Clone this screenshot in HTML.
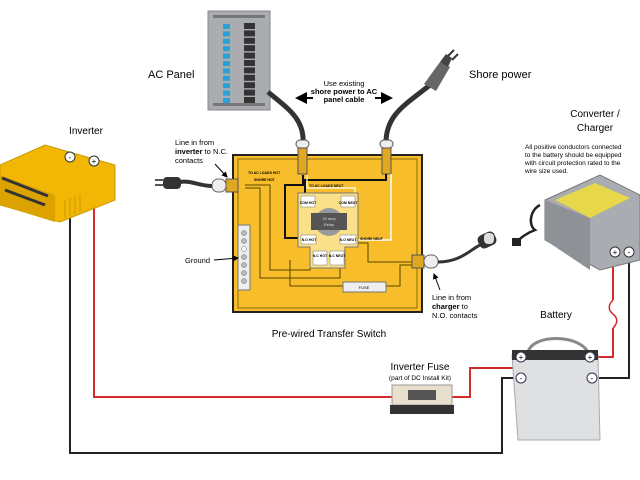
<!DOCTYPE html>
<html><head><style>body{margin:0;background:#fff}svg{display:block}text{font-family:"Liberation Sans",sans-serif}</style></head>
<body>
<svg width="640" height="480" viewBox="0 0 640 480" xmlns="http://www.w3.org/2000/svg">
<defs><marker id="ar" markerWidth="6" markerHeight="6" refX="5" refY="3" orient="auto"><path d="M0,0L6,3L0,6z" fill="#000"/></marker></defs>
<polyline points="70,160 70,453 502,453 502,378 515,378" fill="none" stroke="#222" stroke-width="2"/>
<polyline points="94,160 94,397 470,397 470,368 515,368" fill="none" stroke="#d42a2a" stroke-width="2"/>
<polyline points="613,255 613,300" fill="none" stroke="#d42a2a" stroke-width="2"/>
<path d="M613,300 c-5,5 -5,10 0,14 c5,4 5,9 0,14" fill="none" stroke="#d42a2a" stroke-width="1.5"/>
<polyline points="613,328 613,357 592,357" fill="none" stroke="#d42a2a" stroke-width="2"/>
<polyline points="629,255 629,378 596,378" fill="none" stroke="#222" stroke-width="2"/>
<rect x="208" y="11" width="62" height="99" fill="#a9acb0" stroke="#888"/>
<rect x="213" y="15" width="52" height="3" fill="#777"/><rect x="213" y="103" width="52" height="3" fill="#777"/>
<g id="br">
<rect x="223" y="24" width="7" height="5" fill="#2aa0d8"/><rect x="244" y="23" width="11" height="6" fill="#333"/>
</g>
<use href="#br" y="7.4"/><use href="#br" y="14.8"/><use href="#br" y="22.2"/><use href="#br" y="29.6"/><use href="#br" y="37"/><use href="#br" y="44.4"/><use href="#br" y="51.8"/><use href="#br" y="59.2"/><use href="#br" y="66.6"/><use href="#br" y="74"/>
<text x="148" y="78" font-size="11">AC Panel</text>
<text x="469" y="78" font-size="11">Shore power</text>
<text x="344" y="86" font-size="7.5" text-anchor="middle">Use existing</text>
<text x="344" y="94" font-size="7.5" text-anchor="middle" font-weight="bold">shore power to AC</text>
<text x="344" y="102" font-size="7.5" text-anchor="middle" font-weight="bold">panel cable</text>
<line x1="313" y1="98" x2="297" y2="98" stroke="#000" stroke-width="2" marker-end="url(#ar)"/>
<line x1="375" y1="98" x2="391" y2="98" stroke="#000" stroke-width="2" marker-end="url(#ar)"/>
<path d="M268,92 C290,110 305,120 303,145" fill="none" stroke="#333" stroke-width="5"/>
<path d="M430,85 C405,105 385,115 386,145" fill="none" stroke="#333" stroke-width="5"/>
<path d="M424,84 l16,-22 l10,5 l-14,24z" fill="#666"/>
<path d="M440,62 l6,-8 l6,4 l-4,9z" fill="#444"/>
<path d="M448,56 l6,-6 M452,60 l6,-6" stroke="#333" stroke-width="2"/>
<rect x="233" y="155" width="189" height="157" fill="#f7bd2a" stroke="#222" stroke-width="2"/>
<rect x="238" y="159" width="179" height="149" fill="none" stroke="#8a6a10" stroke-width="1"/>
<g fill="#eee" stroke="#555"><rect x="296" y="140" width="13" height="8" rx="4"/><rect x="380" y="140" width="13" height="8" rx="4"/></g>
<rect x="298" y="148" width="9" height="26" fill="#e0a820" stroke="#555"/>
<rect x="382" y="148" width="9" height="26" fill="#e0a820" stroke="#555"/>
<g fill="none" stroke="#5a4500" stroke-width="1">
<polyline points="245,185 270,185 270,270 310,270 310,262"/>
<polyline points="245,188 260,188 260,278 340,278 340,262"/>
<polyline points="290,260 290,286 343,286"/>
<polyline points="386,286 400,286 400,265 412,265"/>
<polyline points="358,243 368,243 368,262 412,262"/>
</g>
<polyline points="303,175 303,185 285,185 285,238 300,238" fill="none" stroke="#111" stroke-width="2"/>
<polyline points="386,174 386,180 305,180 305,196" fill="none" stroke="#111" stroke-width="2"/>
<polyline points="391,174 391,240 356,240" fill="none" stroke="#fff" stroke-width="1.5"/>
<polyline points="307,175 307,188 355,188 355,196" fill="none" stroke="#fff" stroke-width="1.2"/>
<path d="M298,193 h60 v54 h-13 v21 h-35 v-21 h-12z" fill="#fbe08a" stroke="#777"/>
<circle cx="329" cy="222" r="14" fill="#999"/>
<rect x="311" y="213" width="36" height="17" fill="#555"/>
<text x="329" y="220" font-size="4" fill="#ddd" text-anchor="middle">15 amp</text>
<text x="329" y="226" font-size="4" fill="#ddd" text-anchor="middle">Relay</text>
<g fill="#fff" stroke="#777" stroke-width="0.5">
<rect x="301" y="196" width="14" height="11"/><rect x="341" y="196" width="14" height="11"/>
<rect x="301" y="235" width="15" height="9"/><rect x="340" y="235" width="16" height="9"/>
<rect x="313" y="251" width="14" height="14"/><rect x="330" y="251" width="14" height="14"/>
</g>
<g font-size="3.5" font-weight="bold" text-anchor="middle">
<text x="308" y="204">COM HOT</text><text x="348" y="204">COM NEUT</text>
<text x="309" y="241">N.O HOT</text><text x="348" y="241">N.O NEUT</text>
<text x="320" y="257">N.C HOT</text><text x="337" y="257">N.C NEUT</text>
<text x="248" y="174" text-anchor="start">TO AC LOADS HOT</text>
<text x="254" y="181" text-anchor="start">SHORE HOT</text>
<text x="309" y="187" text-anchor="start">TO AC LOADS NEUT</text>
<text x="360" y="240" text-anchor="start">SHORE NEUT</text>
</g>
<rect x="238" y="225" width="12" height="65" fill="#eee" stroke="#777"/>
<g fill="#bbb" stroke="#666" stroke-width="0.5"><circle cx="244" cy="233" r="2.5"/><circle cx="244" cy="241" r="2.5"/><circle cx="244" cy="249" r="2.5" fill="#fff"/><circle cx="244" cy="257" r="2.5"/><circle cx="244" cy="265" r="2.5"/><circle cx="244" cy="273" r="2.5"/><circle cx="244" cy="281" r="2.5"/></g>
<rect x="343" y="282" width="43" height="10" fill="#eee" stroke="#777"/>
<text x="364" y="289" font-size="4" text-anchor="middle">FUSE</text>
<rect x="226" y="179" width="12" height="13" fill="#e0a820" stroke="#555"/>
<rect x="212" y="179" width="14" height="13" rx="6" fill="#eee" stroke="#666"/>
<path d="M212,186 C200,186 190,180 180,182" fill="none" stroke="#333" stroke-width="4"/>
<rect x="163" y="177" width="18" height="12" rx="4" fill="#333"/>
<path d="M155,180 h8 M155,185 h8" stroke="#555" stroke-width="2"/>
<rect x="412" y="255" width="12" height="13" fill="#e0a820" stroke="#555"/>
<rect x="424" y="255" width="14" height="13" rx="6" fill="#eee" stroke="#666"/>
<path d="M438,262 C460,262 470,250 480,245" fill="none" stroke="#333" stroke-width="3"/>
<rect x="478" y="233" width="18" height="14" rx="5" fill="#333" transform="rotate(-25 487 240)"/>
<rect x="484" y="233" width="10" height="11" rx="4" fill="#ddd"/>
<text x="175" y="145" font-size="7.5">Line in from</text>
<text x="175" y="154" font-size="7.5"><tspan font-weight="bold">inverter</tspan> to N.C.</text>
<text x="175" y="163" font-size="7.5">contacts</text>
<line x1="215" y1="164" x2="227" y2="177" stroke="#000" marker-end="url(#ar)"/>
<text x="185" y="263" font-size="7.5">Ground</text>
<line x1="214" y1="260" x2="238" y2="258" stroke="#000" marker-end="url(#ar)"/>
<text x="432" y="300" font-size="7.5">Line in from</text>
<text x="432" y="309" font-size="7.5" font-weight="bold">charger <tspan font-weight="normal">to</tspan></text>
<text x="432" y="318" font-size="7.5">N.O. contacts</text>
<line x1="440" y1="290" x2="434" y2="274" stroke="#000" marker-end="url(#ar)"/>
<text x="329" y="337" font-size="10" text-anchor="middle">Pre-wired Transfer Switch</text>
<text x="86" y="134" font-size="10" text-anchor="middle">Inverter</text>
<path d="M0,165 L45,145 L115,165 L115,200 L60,222 L0,205z" fill="#f2b705" stroke="#c99a00"/>
<path d="M0,175 L55,195 L55,222 L0,205z" fill="#dca300"/>
<path d="M2,178 L48,196 M5,190 l40,15" stroke="#333" stroke-width="3"/>
<path d="M65,200 v18 M70,198 v18 M75,196 v18 M80,194 v18" stroke="#c99a00"/>
<circle cx="70" cy="157" r="5" fill="#fff" stroke="#333"/><text x="70" y="160" font-size="8" text-anchor="middle">-</text>
<circle cx="94" cy="161" r="5" fill="#fff" stroke="#333"/><text x="94" y="164" font-size="8" text-anchor="middle">+</text>
<text x="595" y="117" font-size="10" text-anchor="middle">Converter /</text>
<text x="595" y="131" font-size="10" text-anchor="middle">Charger</text>
<g font-size="6.5"><text x="525" y="149">All positive conductors connected</text><text x="525" y="157">to the battery should be equipped</text><text x="525" y="165">with circuit protection rated to the</text><text x="525" y="173">wire size used.</text></g>
<path d="M545,200 L600,175 L640,195 L640,260 L600,270 L545,240z" fill="#a9acb0" stroke="#777"/>
<path d="M555,200 L595,183 L630,198 L590,218z" fill="#e6d84a"/>
<path d="M545,200 L590,218 L590,270 L545,240z" fill="#8e9195"/>
<path d="M540,205 c-10,5 -12,20 -5,25 c-8,3 -15,8 -18,12" fill="none" stroke="#222" stroke-width="2.5"/>
<rect x="512" y="238" width="9" height="8" fill="#222"/>
<circle cx="615" cy="252" r="5" fill="#fff" stroke="#333"/><text x="615" y="255" font-size="8" text-anchor="middle">+</text>
<circle cx="629" cy="252" r="5" fill="#fff" stroke="#333"/><text x="629" y="255" font-size="8" text-anchor="middle">-</text>
<text x="556" y="318" font-size="10" text-anchor="middle">Battery</text>
<path d="M528,352 c5,-18 50,-18 60,0" fill="none" stroke="#888" stroke-width="3"/>
<path d="M512,355 L598,355 L600,440 L518,440z" fill="#dfe0e2" stroke="#aaa"/>
<rect x="512" y="350" width="86" height="10" fill="#333"/>
<circle cx="521" cy="357" r="5" fill="#fff" stroke="#335"/><text x="521" y="360" font-size="8" text-anchor="middle">+</text>
<circle cx="590" cy="357" r="5" fill="#fff" stroke="#335"/><text x="590" y="360" font-size="8" text-anchor="middle">+</text>
<circle cx="521" cy="378" r="5" fill="#fff" stroke="#335"/><text x="521" y="381" font-size="8" text-anchor="middle">-</text>
<circle cx="592" cy="378" r="5" fill="#fff" stroke="#335"/><text x="592" y="381" font-size="8" text-anchor="middle">-</text>
<text x="420" y="370" font-size="10" text-anchor="middle">Inverter Fuse</text>
<text x="420" y="380" font-size="6.5" text-anchor="middle">(part of DC Install Kit)</text>
<rect x="392" y="385" width="60" height="20" fill="#e8e0cc" stroke="#999"/>
<rect x="408" y="390" width="28" height="10" fill="#555"/>
<rect x="390" y="405" width="64" height="9" fill="#333"/>
</svg>
</body></html>
